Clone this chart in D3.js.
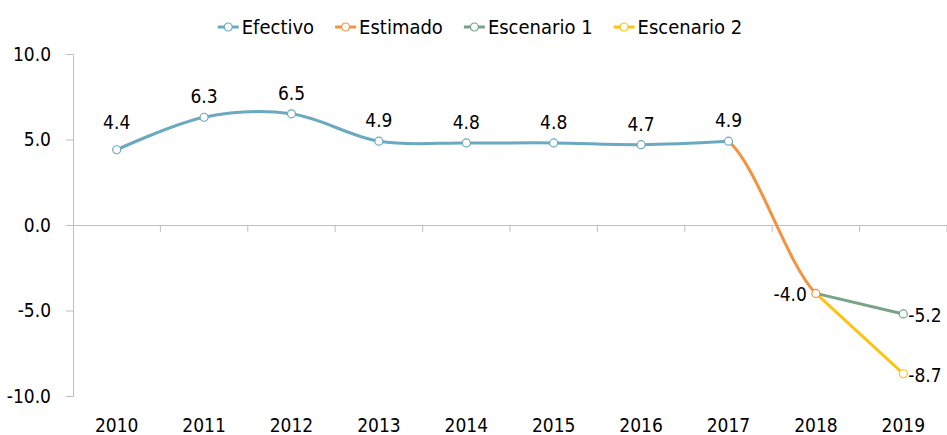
<!DOCTYPE html>
<html>
<head>
<meta charset="utf-8">
<script src="https://cdn.jsdelivr.net/npm/d3@7"></script>
<style>
  body { margin: 0; background: #fff; }
  text { font-family: "DejaVu Sans Condensed", "DejaVu Sans", sans-serif; fill: #000; }
</style>
</head>
<body>
<div id="chart"></div>
<script>
const width = 947;
const height = 435;

const years = ["2010", "2011", "2012", "2013", "2014", "2015", "2016", "2017", "2018", "2019"];
const efectivo = [4.4, 6.3, 6.5, 4.9, 4.8, 4.8, 4.7, 4.9];
const estimado = [4.9, -4.0];
const escenario1 = [-4.0, -5.2];
const escenario2 = [-4.0, -8.7];
const yTicks = [10, 5, 0, -5, -10];

const seriesNames = ["Efectivo", "Estimado", "Escenario 1", "Escenario 2"];
const colors = ["#6aa9bf", "#f5923e", "#78a386", "#ffc20e"];

const svg = d3.select("#chart")
    .append("svg")
    .attr("width", width)
    .attr("height", height);

const x = d3.scaleBand()
    .domain(years)
    .range([73, 947])
    .padding(0);

const y = d3.scaleLinear()
    .domain([-10, 10])
    .range([396, 54]);

const cx = yr => x(yr) + x.bandwidth() / 2;
// plain hyphen for negatives, as in the original
const fmt = v => d3.format(".1f")(v).replace("\u2212", "-");

// y axis
const yAxis = svg.append("g")
    .attr("transform", "translate(73,0)")
    .call(d3.axisLeft(y).tickValues(yTicks).tickSize(7).tickPadding(15)
        .tickFormat(fmt));
yAxis.select(".domain").attr("stroke", "#bfbfbf");
yAxis.selectAll(".tick line").attr("stroke", "#bfbfbf");
yAxis.selectAll(".tick text")
    .style("font-size", "19px")
    .attr("font-family", null);

// zero line with category ticks
const xAxis = svg.append("g")
    .attr("transform", `translate(0,${y(0)})`)
    .call(d3.axisBottom(x).tickSize(0).tickFormat(""));
xAxis.select(".domain").attr("stroke", "#bfbfbf");
xAxis.selectAll(".tick").remove();
xAxis.selectAll("line.cat")
    .data(years)
    .join("line")
    .attr("class", "cat")
    .attr("x1", d => x(d) + x.bandwidth())
    .attr("x2", d => x(d) + x.bandwidth())
    .attr("y1", 0)
    .attr("y2", 7)
    .attr("stroke", "#bfbfbf");

// year labels at bottom
svg.append("g")
    .selectAll("text")
    .data(years)
    .join("text")
    .attr("x", d => cx(d))
    .attr("y", 432)
    .attr("text-anchor", "middle")
    .style("font-size", "19px")
    .text(d => d);

const smooth = d3.curveCardinal.tension(0);
const line = d3.line()
    .x(d => cx(d.year))
    .y(d => y(d.value))
    .curve(smooth);

const effData = efectivo.map((v, i) => ({ year: years[i], value: v }));
const estData = estimado.map((v, i) => ({ year: years[7 + i], value: v }));
const esc1Data = escenario1.map((v, i) => ({ year: years[8 + i], value: v }));
const esc2Data = escenario2.map((v, i) => ({ year: years[8 + i], value: v }));

// Estimado drawn smoothed using neighbouring points, clipped to its own span
const estContext = [effData[6], ...estData, esc1Data[1]];
svg.append("clipPath")
    .attr("id", "estClip")
    .append("rect")
    .attr("x", cx("2017"))
    .attr("y", 0)
    .attr("width", cx("2018") - cx("2017"))
    .attr("height", height);

svg.append("path")
    .datum(effData)
    .attr("d", line)
    .attr("fill", "none")
    .attr("stroke", colors[0])
    .attr("stroke-width", 3);

svg.append("path")
    .datum(estContext)
    .attr("d", line)
    .attr("clip-path", "url(#estClip)")
    .attr("fill", "none")
    .attr("stroke", colors[1])
    .attr("stroke-width", 3);

svg.append("path")
    .datum(esc2Data)
    .attr("d", line)
    .attr("fill", "none")
    .attr("stroke", colors[3])
    .attr("stroke-width", 3);

svg.append("path")
    .datum(esc1Data)
    .attr("d", line)
    .attr("fill", "none")
    .attr("stroke", colors[2])
    .attr("stroke-width", 3);

// markers
const markers = [
    { data: effData, color: colors[0] },
    { data: esc1Data.slice(1), color: colors[2] },
    { data: esc2Data.slice(1), color: colors[3] },
    { data: estData.slice(1), color: colors[1] }
];
markers.forEach(m => {
    svg.append("g")
        .selectAll("circle")
        .data(m.data)
        .join("circle")
        .attr("cx", d => cx(d.year))
        .attr("cy", d => y(d.value))
        .attr("r", 4)
        .attr("fill", "#fff")
        .attr("stroke", m.color)
        .attr("stroke-width", 1.2);
});

// value labels
svg.append("g")
    .selectAll("text")
    .data(effData)
    .join("text")
    .attr("x", d => cx(d.year))
    .attr("y", (d, i) => y(d.value) - (i === 0 ? 21 : 14))
    .attr("text-anchor", "middle")
    .style("font-size", "19px")
    .text(d => fmt(d.value));

svg.append("text")
    .attr("x", cx("2018") - 9)
    .attr("y", y(estimado[1]) + 8)
    .attr("text-anchor", "end")
    .style("font-size", "19px")
    .text(fmt(estimado[1]));

[esc1Data[1], esc2Data[1]].forEach(d => {
    svg.append("text")
        .attr("x", cx(d.year) + 5)
        .attr("y", y(d.value) + 8)
        .attr("text-anchor", "start")
        .style("font-size", "19px")
        .text(fmt(d.value));
});

// legend
const legend = svg.append("g");
let lx = 0;
seriesNames.forEach((name, i) => {
    const g = legend.append("g").attr("transform", `translate(${lx},0)`);
    g.append("line")
        .attr("x1", 0).attr("x2", 21)
        .attr("y1", 0).attr("y2", 0)
        .attr("stroke", colors[i])
        .attr("stroke-width", 3);
    g.append("circle")
        .attr("cx", 10.5).attr("cy", 0).attr("r", 4)
        .attr("fill", "#fff")
        .attr("stroke", colors[i])
        .attr("stroke-width", 1.2);
    const t = g.append("text")
        .attr("x", 24)
        .attr("y", 7)
        .style("font-size", "20px")
        .text(name);
    lx += 24 + t.node().getComputedTextLength() + 21;
});
const legendWidth = lx - 21;
legend.attr("transform", `translate(${480 - legendWidth / 2},27)`);
</script>
</body>
</html>
